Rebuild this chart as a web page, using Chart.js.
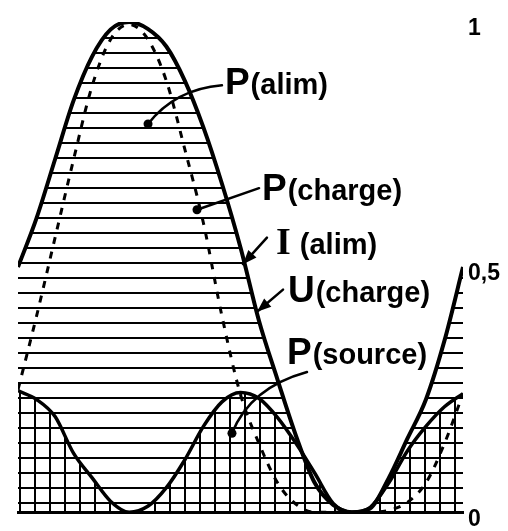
<!DOCTYPE html>
<html>
<head>
<meta charset="utf-8">
<script src="https://cdn.jsdelivr.net/npm/chart.js@4.4.0/dist/chart.umd.min.js"></script>
<style>
  html, body { margin: 0; padding: 0; background: #fff; }
  #wrap { width: 508px; height: 531px; }
</style>
</head>
<body>
<div id="wrap"><canvas id="myChart"></canvas></div>
<script>
// phase along the horizontal axis (degrees)
const phase = [0, 15, 30, 45, 60, 75, 90, 105, 120, 135, 150, 165, 180,
               195, 210, 225, 240, 255, 270, 285, 300, 315, 330, 345, 360];

// thick curve, hatched horizontally
const pAlim = [0.50, 0.60, 0.72, 0.84, 0.93, 0.985, 1.0, 0.986, 0.95, 0.88, 0.785, 0.67, 0.54,
               0.39, 0.27, 0.155, 0.06, 0.015, 0.0, 0.008, 0.07, 0.15, 0.23, 0.35, 0.50];

// dashed curve
const pCharge = [0.25, 0.40, 0.56, 0.72, 0.87, 0.965, 0.995, 0.965, 0.88, 0.74, 0.59, 0.40, 0.24,
                 0.14, 0.06, 0.016, 0.0, 0.0, 0.0, 0.0, 0.004, 0.02, 0.06, 0.14, 0.242];

// small wave, cross-hatched
const pSource = [0.248, 0.23, 0.195, 0.12, 0.07, 0.022, 0.0, 0.012, 0.05, 0.107, 0.175, 0.225, 0.244,
                 0.232, 0.193, 0.14, 0.08, 0.018, 0.0, 0.01, 0.06, 0.125, 0.175, 0.215, 0.242];

const yTicks = [0, 0.5, 1];
const yTickLabels = ['0', '0,5', '1'];

// texte des courbes (position en unités des axes)
const notes = [
  { big: 'P', small: '(alim)', at: [167.4, 0.853] },
  { big: 'P', small: '(charge)', at: [197.4, 0.637] },
  { big: 'I', small: ' (alim)', at: [208.7, 0.526], serif: true },
  { big: 'U', small: '(charge)', at: [218.4, 0.429] },
  { big: 'P', small: '(source)', at: [217.6, 0.302] }
];

const pointers = [
  { from: [165.0, 0.871], ctrl: [127, 0.863], to: [105.2, 0.792], end: 'dot' },
  { from: [195.0, 0.661], to: [144.8, 0.617], end: 'dot' },
  { from: [201.4, 0.560], to: [182.0, 0.506], end: 'arrow' },
  { from: [214.4, 0.454], to: [193.4, 0.409], end: 'arrow' },
  { from: [233.8, 0.286], ctrl: [187.8, 0.254], to: [173.1, 0.161], end: 'dot' }
];

function hatch(horizontal) {
  const c = document.createElement('canvas');
  c.width = 15;
  c.height = 15;
  const g = c.getContext('2d');
  g.fillStyle = '#000';
  if (horizontal) g.fillRect(0, 7, 15, 2);
  else g.fillRect(4, 0, 2, 15);
  return g.createPattern(c, 'repeat');
}

function toPoints(values) {
  return values.map((v, i) => ({ x: phase[i], y: v }));
}

const labelsPlugin = {
  id: 'labelsPlugin',
  afterDatasetsDraw(chart) {
    const { ctx, scales: { x, y } } = chart;
    const px = p => [x.getPixelForValue(p[0]), y.getPixelForValue(p[1])];

    ctx.save();
    ctx.strokeStyle = '#000';
    ctx.fillStyle = '#000';
    ctx.lineWidth = 2.5;
    ctx.lineCap = 'round';

    pointers.forEach(p => {
      const a = px(p.from), b = px(p.to);
      ctx.beginPath();
      ctx.moveTo(a[0], a[1]);
      let prev = a;
      if (p.ctrl) {
        const c = px(p.ctrl);
        ctx.quadraticCurveTo(c[0], c[1], b[0], b[1]);
        prev = c;
      } else {
        ctx.lineTo(b[0], b[1]);
      }
      ctx.stroke();
      if (p.end === 'dot') {
        ctx.beginPath();
        ctx.arc(b[0], b[1], 4.5, 0, Math.PI * 2);
        ctx.fill();
      } else {
        const ang = Math.atan2(b[1] - prev[1], b[0] - prev[0]);
        ctx.save();
        ctx.translate(b[0], b[1]);
        ctx.rotate(ang);
        ctx.beginPath();
        ctx.moveTo(0, 0);
        ctx.lineTo(-14, -5.5);
        ctx.lineTo(-14, 5.5);
        ctx.closePath();
        ctx.fill();
        ctx.restore();
      }
    });

    ctx.textBaseline = 'alphabetic';
    ctx.textAlign = 'left';
    notes.forEach(n => {
      const p = px(n.at);
      ctx.font = n.serif ? 'bold 38px "Liberation Serif"' : 'bold 37px "Liberation Sans"';
      ctx.fillText(n.big, p[0], p[1]);
      const w = ctx.measureText(n.big).width;
      ctx.font = 'bold 29px "Liberation Sans"';
      ctx.fillText(n.small, p[0] + w + 1, p[1]);
    });
    ctx.restore();
  }
};

const ctx = document.getElementById('myChart').getContext('2d');
new Chart(ctx, {
  type: 'line',
  data: {
    datasets: [
      {
        label: 'P(source)',
        data: toPoints(pSource),
        borderColor: '#000',
        borderWidth: 3.5,
        backgroundColor: hatch(false),
        fill: 'origin',
        pointRadius: 0,
        cubicInterpolationMode: 'monotone'
      },
      {
        label: 'P(charge)',
        data: toPoints(pCharge),
        borderColor: '#000',
        borderWidth: 3,
        borderDash: [7, 8],
        fill: false,
        pointRadius: 0,
        cubicInterpolationMode: 'monotone'
      },
      {
        label: 'P(alim)',
        data: toPoints(pAlim),
        borderColor: '#000',
        borderWidth: 4,
        backgroundColor: hatch(true),
        fill: 'origin',
        pointRadius: 0,
        cubicInterpolationMode: 'monotone'
      }
    ]
  },
  options: {
    responsive: true,
    maintainAspectRatio: false,
    animation: false,
    layout: { padding: { left: 18, top: 22, right: 0, bottom: 13 } },
    plugins: {
      legend: { display: false },
      tooltip: { enabled: false }
    },
    scales: {
      x: {
        type: 'linear',
        min: 0,
        max: 360,
        ticks: { display: false },
        grid: { display: false, drawTicks: false },
        border: { display: true, color: '#000', width: 3 }
      },
      y: {
        position: 'right',
        min: 0,
        max: 1,
        afterBuildTicks: scale => { scale.ticks = yTicks.map(v => ({ value: v })); },
        afterFit: scale => { scale.width = 45; },
        ticks: {
          padding: 5,
          labelOffset: 7,
          color: '#000',
          font: { family: 'Liberation Sans', size: 23, weight: 'bold' },
          callback: (value, index) => yTickLabels[index]
        },
        grid: { display: false, drawTicks: false },
        border: { display: false }
      }
    }
  },
  plugins: [labelsPlugin]
});
</script>
</body>
</html>
